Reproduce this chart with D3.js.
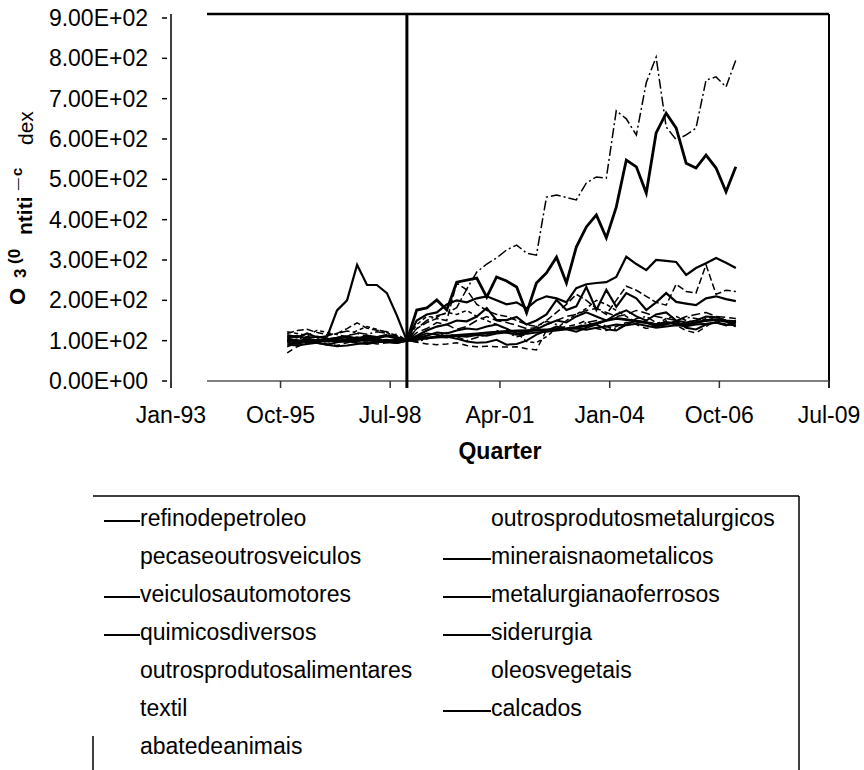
<!DOCTYPE html>
<html>
<head>
<meta charset="utf-8">
<script src="https://cdn.jsdelivr.net/npm/d3@7"></script>
<style>
body { margin: 0; background: #fff; }
svg { display: block; font-family: "Liberation Sans", Arial, sans-serif; }
</style>
</head>
<body>
<script>
// quarterly price index, base Dec-98 = 100
var quarters = ["1995-12","1996-03","1996-06","1996-09","1996-12","1997-03","1997-06","1997-09","1997-12",
    "1998-03","1998-06","1998-09","1998-12","1999-03","1999-06","1999-09","1999-12","2000-03","2000-06",
    "2000-09","2000-12","2001-03","2001-06","2001-09","2001-12","2002-03","2002-06","2002-09","2002-12",
    "2003-03","2003-06","2003-09","2003-12","2004-03","2004-06","2004-09","2004-12","2005-03","2005-06",
    "2005-09","2005-12","2006-03","2006-06","2006-09","2006-12","2007-03"];
var baseQuarter = "1998-12";

var refinodepetroleo = [100,96,104,98,102,106,110,104,112,108,112,106,100,
    176,181,201,176,245,250,255,208,258,248,233,169,243,
    268,307,243,332,382,412,355,431,548,531,466,615,664,627,540,528,560,528,469,531];
var pecaseoutrosveiculos = [118,125,128,120,115,118,130,144,131,126,122,112,100,
    130,145,155,150,243,226,190,175,165,160,150,140,135,
    150,170,190,215,200,180,165,200,235,225,210,195,188,240,222,218,288,215,225,222];
var veiculosautomotores = [102,100,98,100,102,100,98,100,102,100,98,100,100,
    104,107,109,111,113,115,117,119,121,123,124,125,126,
    127,128,130,133,137,143,150,155,152,148,145,140,145,142,140,145,150,152,148,143];
var quimicosdiversos = [95,92,98,94,90,96,100,94,92,96,98,94,100,
    108,112,120,118,125,130,128,135,140,130,118,120,128,
    140,150,145,160,170,160,150,165,175,160,150,165,170,150,145,150,160,158,150,148];
var outrosprodutosalimentares = [122,118,112,126,120,115,110,125,135,128,120,110,100,
    140,160,158,170,165,175,160,150,140,128,120,98,95,
    110,130,150,165,180,200,190,175,160,145,150,140,155,160,150,145,155,160,150,140];
var textil = [70,85,95,100,92,88,95,100,96,92,95,98,100,
    96,92,90,92,95,88,85,86,85,84,85,80,77,
    126,130,135,140,150,130,125,135,145,140,130,135,150,138,125,119,135,150,140,135];
var abatedeanimais = [85,95,105,100,96,104,110,106,100,110,115,108,100,
    98,104,112,120,110,100,108,115,125,120,110,115,135,
    148,140,128,132,145,150,135,128,140,155,160,145,140,150,158,155,148,160,150,145];
var outrosprodutosmetalurgicos = [98,104,110,106,112,118,124,120,116,122,118,110,100,
    130,150,162,168,182,228,270,290,305,325,337,317,312,
    456,461,455,449,491,506,503,670,650,610,740,803,630,598,610,627,746,754,729,796];
var mineraisnaometalicos = [112,108,118,108,110,175,200,288,238,238,218,162,100,
    150,165,170,190,200,195,205,210,200,190,195,180,200,
    210,205,195,230,240,243,245,258,308,290,275,300,298,295,263,280,292,305,293,280];
var metalurgianaoferrosos = [90,88,92,95,90,86,88,92,95,98,96,94,100,
    110,118,115,110,105,98,95,96,102,90,92,100,115,
    125,135,128,122,132,140,128,125,140,150,145,135,140,148,132,128,140,145,138,150];
var siderurgia = [105,100,96,102,98,100,104,108,104,100,102,98,100,
    112,125,135,140,150,148,160,181,151,151,159,140,150,
    165,201,176,185,233,176,226,184,218,205,176,195,218,196,192,188,205,210,203,198];
var oleosvegetais = [115,110,104,96,100,108,112,118,110,104,112,116,100,
    120,130,145,140,128,135,150,160,150,145,138,130,132,
    140,150,160,165,175,180,170,160,165,175,168,160,155,150,160,165,170,160,158,155];
var calcados = [108,112,106,110,104,106,100,104,108,104,100,102,100,
    102,106,110,108,112,110,114,112,118,120,115,117,120,
    122,125,128,130,127,132,135,140,138,142,137,132,135,138,136,140,142,145,140,138];

var legendCol1 = ["refinodepetroleo","pecaseoutrosveiculos","veiculosautomotores","quimicosdiversos",
    "outrosprodutosalimentares","textil","abatedeanimais"];
var legendCol2 = ["outrosprodutosmetalurgicos","mineraisnaometalicos","metalurgianaoferrosos","siderurgia",
    "oleosvegetais","calcados"];

var xTickDates = ["1993-01","1995-10","1998-07","2001-04","2004-01","2006-10","2009-07"];
var yTicks = [0,100,200,300,400,500,600,700,800,900];

var seriesValues = {
    refinodepetroleo: refinodepetroleo, pecaseoutrosveiculos: pecaseoutrosveiculos,
    veiculosautomotores: veiculosautomotores, quimicosdiversos: quimicosdiversos,
    outrosprodutosalimentares: outrosprodutosalimentares, textil: textil, abatedeanimais: abatedeanimais,
    outrosprodutosmetalurgicos: outrosprodutosmetalurgicos, mineraisnaometalicos: mineraisnaometalicos,
    metalurgianaoferrosos: metalurgianaoferrosos, siderurgia: siderurgia, oleosvegetais: oleosvegetais,
    calcados: calcados
};

// line looks (the dashed ones lost their legend sample in the scan)
var styles = {
    refinodepetroleo: {w: 2.8, dash: null, key: true},
    pecaseoutrosveiculos: {w: 1.5, dash: "7,3", key: false},
    veiculosautomotores: {w: 2.8, dash: null, key: true},
    quimicosdiversos: {w: 2, dash: null, key: true},
    outrosprodutosalimentares: {w: 1.5, dash: "4,3", key: false},
    textil: {w: 1.5, dash: "6,4", key: false},
    abatedeanimais: {w: 1.5, dash: "8,3,2,3", key: false},
    outrosprodutosmetalurgicos: {w: 1.5, dash: "10,3,2,3", key: false},
    mineraisnaometalicos: {w: 2.2, dash: null, key: true},
    metalurgianaoferrosos: {w: 2, dash: null, key: true},
    siderurgia: {w: 2.2, dash: null, key: true},
    oleosvegetais: {w: 1.5, dash: "9,4", key: false},
    calcados: {w: 2, dash: null, key: true}
};

var width = 864, height = 770;
var fontSize = "23px";
var parseQ = d3.timeParse("%Y-%m");
var fmtX = d3.timeFormat("%b-%y");
function fmtY(v) {
    var p = v.toExponential(2).split("e");
    var e = +p[1];
    return p[0] + "E" + (e < 0 ? "-" : "+") + d3.format("02d")(Math.abs(e));
}

var svg = d3.select("body").append("svg").attr("width", width).attr("height", height);

var x = d3.scaleTime().domain([parseQ("1993-01"), parseQ("2009-07")]).range([171, 829]);
var y = d3.scaleLinear().domain([0, 900]).range([381, 18]);
var frameLeft = 207, frameTop = 14;

// frame (top / right edges, bottom axis line)
svg.append("line").attr("x1", frameLeft).attr("x2", x.range()[1]).attr("y1", frameTop).attr("y2", frameTop)
    .attr("stroke", "#000").attr("stroke-width", 2.5);
svg.append("line").attr("x1", x.range()[1]).attr("x2", x.range()[1]).attr("y1", frameTop).attr("y2", y(0) + 7)
    .attr("stroke", "#000").attr("stroke-width", 2);
svg.append("line").attr("x1", frameLeft).attr("x2", x.range()[1]).attr("y1", y(0)).attr("y2", y(0))
    .attr("stroke", "#555").attr("stroke-width", 1.5);
svg.append("line").attr("x1", x.range()[0]).attr("x2", x.range()[0]).attr("y1", frameTop).attr("y2", y(0) + 7)
    .attr("stroke", "#000").attr("stroke-width", 1.5);

// x axis ticks + labels
var xt = svg.append("g");
xTickDates.forEach(function (s) {
    var d = parseQ(s), px = x(d);
    xt.append("line").attr("x1", px).attr("x2", px).attr("y1", y(0)).attr("y2", y(0) + 7)
        .attr("stroke", "#333").attr("stroke-width", 1.5);
    xt.append("text").attr("x", px).attr("y", 423).attr("text-anchor", "middle")
        .style("font-size", fontSize).text(fmtX(d));
});

// y axis ticks + labels
var yt = svg.append("g");
yTicks.forEach(function (v) {
    yt.append("line").attr("x1", 162).attr("x2", 167).attr("y1", y(v)).attr("y2", y(v))
        .attr("stroke", "#000").attr("stroke-width", 1.5);
    yt.append("text").attr("x", 148).attr("y", y(v)).attr("dy", "0.35em").attr("text-anchor", "end")
        .style("font-size", fontSize).text(fmtY(v));
});

// axis titles
svg.append("text").attr("x", (x.range()[0] + x.range()[1]) / 2).attr("y", 459).attr("text-anchor", "middle")
    .style("font-size", fontSize).style("font-weight", "bold").text("Quarter");

var yTitleParts = [
    {t: "O", bx: 25, sy: 305, size: 22, bold: true},
    {t: "3", bx: 26, sy: 278, size: 17, bold: true},
    {t: "(0", bx: 20, sy: 264, size: 17, bold: true},
    {t: "ntiti", bx: 32, sy: 235, size: 21, bold: true},
    {t: "\u00af", bx: 33, sy: 190, size: 21, bold: false},
    {t: "c", bx: 22, sy: 176, size: 15, bold: true},
    {t: "dex", bx: 33, sy: 145, size: 21, bold: false}
];
yTitleParts.forEach(function (p) {
    svg.append("text").attr("transform", "translate(" + p.bx + "," + p.sy + ") rotate(-90)")
        .style("font-size", p.size + "px").style("font-weight", p.bold ? "bold" : "normal").text(p.t);
});

// base period marker
svg.append("line").attr("x1", x(parseQ(baseQuarter))).attr("x2", x(parseQ(baseQuarter)))
    .attr("y1", frameTop).attr("y2", y(0) + 7).attr("stroke", "#000").attr("stroke-width", 3);

// series
var line = d3.line()
    .x(function (d, i) { return x(parseQ(quarters[i])); })
    .y(function (d) { return y(d); });

var names = legendCol1.concat(legendCol2);
svg.append("g").selectAll("path")
    .data(names)
    .join("path")
    .attr("d", function (n) { return line(seriesValues[n]); })
    .attr("fill", "none")
    .attr("stroke", "#000")
    .attr("stroke-width", function (n) { return styles[n].w; })
    .attr("stroke-dasharray", function (n) { return styles[n].dash; })
    .attr("stroke-linejoin", "miter");

// legend (its left edge only survives near the bottom)
var lg = svg.append("g");
lg.append("line").attr("x1", 93).attr("x2", 799).attr("y1", 496).attr("y2", 496)
    .attr("stroke", "#000").attr("stroke-width", 1.5);
lg.append("line").attr("x1", 799).attr("x2", 799).attr("y1", 496).attr("y2", height)
    .attr("stroke", "#000").attr("stroke-width", 1.5);
lg.append("line").attr("x1", 93).attr("x2", 93).attr("y1", 736).attr("y2", height)
    .attr("stroke", "#000").attr("stroke-width", 1.5);
function legendColumn(list, mx0, mx1) {
    list.forEach(function (n, i) {
        var cy = 518 + i * 38;
        if (styles[n].key) {
            lg.append("line").attr("x1", mx0).attr("x2", mx1).attr("y1", cy + 3).attr("y2", cy + 3)
                .attr("stroke", "#000").attr("stroke-width", 2);
        }
        lg.append("text").attr("x", mx1).attr("y", cy).attr("dy", "0.35em")
            .style("font-size", fontSize).text(n);
    });
}
legendColumn(legendCol1, 104, 140);
legendColumn(legendCol2, 443, 491);
</script>
</body>
</html>
